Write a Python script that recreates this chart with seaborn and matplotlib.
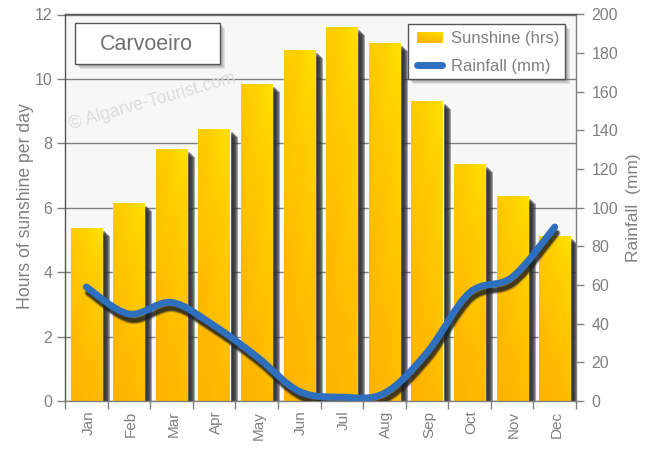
import numpy as np
import pandas as pd
import seaborn as sns
import matplotlib
matplotlib.use("Agg")
import matplotlib.pyplot as plt
from matplotlib.colors import LinearSegmentedColormap
from matplotlib.image import BboxImage
from matplotlib.legend_handler import HandlerBase
from matplotlib.lines import Line2D
from matplotlib.patches import Patch, PathPatch, Rectangle
from matplotlib.path import Path
from matplotlib.ticker import FixedLocator
from matplotlib.transforms import Bbox, ScaledTranslation, TransformedBbox

months = ["Jan", "Feb", "Mar", "Apr", "May", "Jun", "Jul", "Aug", "Sep", "Oct", "Nov", "Dec"]
sunshine = [5.38, 6.15, 7.83, 8.45, 9.85, 10.9, 11.6, 11.1, 9.3, 7.35, 6.38, 5.12]
rainfall = [59, 45, 51, 39, 23, 5, 2, 4, 25, 56, 64, 90]

W, H = 650, 450
GREY = "#808080"
DARK = "#555555"

sns.set_theme(style="white")
plt.rcParams["font.family"] = ["Liberation Sans", "DejaVu Sans"]

fig = plt.figure(figsize=(W / 100, H / 100), dpi=100, facecolor="white")
ax = fig.add_axes([65 / W, 1 - 401 / H, (576 - 65) / W, (401 - 14.5) / H])
ax.set_facecolor("#f7f7f7")


def px(dx, dy):
    # pixel offset, y going down the picture
    return ScaledTranslation(dx / 100, -dy / 100, fig.dpi_scale_trans)


# ── Bars ──────────────────────────────────────────
df = pd.DataFrame({"month": months, "sunshine": sunshine})
sns.barplot(data=df, x="month", y="sunshine", color="#FFC800", width=0.73,
            saturation=1, ax=ax, zorder=3)

gold = LinearSegmentedColormap.from_list(
    "gold", ["#FFB400", "#FFB800", "#FFC400", "#FFD000", "#FFE200"])
v, u = np.mgrid[0:1:80j, 0:1:30j]
texture = np.clip(0.62 * v + 0.32 * u + 0.02 + 0.03 * np.sin(14 * (v - 0.5 * u)), 0, 1)

for bar in list(ax.patches):
    x0, w, h = bar.get_x(), bar.get_width(), bar.get_height()
    for k in range(3, 9):
        ax.add_patch(Rectangle((x0, 0), w, h, color="#303030", alpha=0.42, lw=0,
                               zorder=2, transform=ax.transData + px(k, k)))
    img = ax.imshow(texture, cmap=gold, vmin=0, vmax=1, origin="lower", aspect="auto",
                    extent=(x0, x0 + w, 0, h), zorder=3.5)
    img.set_clip_path(bar)

ax.set_xlim(-0.5, 11.5)
ax.set_ylim(0, 12)
ax.set_xlabel("")
ax.set_ylabel("Hours of sunshine per day", fontsize=12.7, color=GREY, labelpad=0.5)
ax.yaxis.label.set_y(0.505)
ax.set_yticks(range(0, 13, 2))
ax.yaxis.grid(True, color=GREY, lw=1)
ax.xaxis.grid(False)
ax.set_axisbelow(True)
ax.tick_params(axis="y", labelsize=11.5, colors=GREY, length=6, width=1, left=True, pad=3)
ax.tick_params(axis="x", which="major", labelsize=11, labelcolor=GREY, length=0,
               labelrotation=90, pad=7)
for lab in ax.get_xticklabels():
    lab.set_transform(lab.get_transform() + px(2, 0))
ax.xaxis.set_minor_locator(FixedLocator(np.arange(-0.5, 12, 1)))
ax.tick_params(axis="x", which="minor", length=6, width=1, color=GREY, bottom=True)

ax.text(0.012, 0.703, "© Algarve-Tourist.com", transform=ax.transAxes, fontsize=12.7,
        color="#dcdcdc", rotation=15.8, rotation_mode="anchor", zorder=1.5)

# ── Rainfall curve ────────────────────────────────
ax2 = ax.twinx()
ax2.set_ylim(0, 200)
ax2.set_yticks(range(0, 201, 20))
ax2.grid(False)
ax2.tick_params(axis="y", labelsize=11.5, colors=GREY, length=6, width=1, right=True, pad=5)
ax2.set_ylabel("Rainfall  (mm)", fontsize=12.5, color=GREY, labelpad=6)

for side, colour in [("left", DARK), ("top", DARK), ("bottom", GREY), ("right", GREY)]:
    ax2.spines[side].set_visible(True)
    ax2.spines[side].set_color(colour)
    ax2.spines[side].set_linewidth(1)
    ax.spines[side].set_visible(False)
ax2.patch.set_visible(False)

# smooth the line through the monthly values with bezier segments
xs = np.arange(len(rainfall), dtype=float)
ys = np.array(rainfall, dtype=float)
verts = [(xs[0], ys[0])]
codes = [Path.MOVETO]
for i in range(len(xs) - 1):
    prev_i, next_i = max(i - 1, 0), min(i + 2, len(xs) - 1)
    verts.append((xs[i] + (xs[i + 1] - xs[prev_i]) / 6, ys[i] + (ys[i + 1] - ys[prev_i]) / 6))
    verts.append((xs[i + 1] - (xs[next_i] - xs[i]) / 6, ys[i + 1] - (ys[next_i] - ys[i]) / 6))
    verts.append((xs[i + 1], ys[i + 1]))
    codes += [Path.CURVE4] * 3
curve = Path(verts, codes)

for lw, alpha in [(6, 0.12), (5, 0.25), (4, 0.4), (3, 0.6)]:
    ax2.add_patch(PathPatch(curve, fc="none", ec="#202020", lw=lw, alpha=alpha, capstyle="round",
                            transform=ax2.transData + px(2, 6), zorder=3))
ax2.add_patch(PathPatch(curve, fc="none", ec="#2E6FBE", lw=5, capstyle="round", zorder=4))


# ── Title and legend boxes ────────────────────────
def box(x0, y0, x1, y1):
    rect = (x0 / W, 1 - y1 / H, (x1 - x0) / W, (y1 - y0) / H)
    for k in range(1, 6):
        ax2.add_patch(Rectangle(rect[:2], rect[2], rect[3], color="#606060", alpha=0.14, lw=0,
                                transform=fig.transFigure + px(k, k), zorder=5, clip_on=False))
    ax2.add_patch(Rectangle(rect[:2], rect[2], rect[3], fc="white", ec=DARK, lw=1,
                            transform=fig.transFigure, zorder=5.5))


box(74.5, 23, 219.5, 64)
fig.text(146 / W, 1 - 44 / H, "Carvoeiro", fontsize=15.5, color="#707070",
         ha="center", va="center", zorder=10)

box(407.5, 23.5, 564.5, 79)


class GradientHandler(HandlerBase):
    def create_artists(self, legend, orig_handle, xdescent, ydescent, width, height, fontsize, trans):
        bbox = TransformedBbox(Bbox.from_bounds(xdescent, ydescent, width, height - 1), trans)
        swatch = BboxImage(bbox, cmap=gold, norm=plt.Normalize(0, 1), origin="lower")
        swatch.set_data(texture)
        return [swatch]


handles = [Patch(label="Sunshine (hrs)"),
           Line2D([0], [0], color="#2E6FBE", lw=5, solid_capstyle="round", label="Rainfall (mm)")]
leg = ax2.legend(handles=handles, handler_map={Patch: GradientHandler()},
                 loc="upper left", bbox_to_anchor=(416.5 / W, 1 - 31 / H),
                 bbox_transform=fig.transFigure, frameon=False, fontsize=12,
                 labelcolor=GREY, handlelength=1.55, handletextpad=0.5, labelspacing=0.76,
                 borderpad=0, borderaxespad=0)
leg.set_zorder(6)

fig.savefig("out.png", dpi=100)
print("saved")
